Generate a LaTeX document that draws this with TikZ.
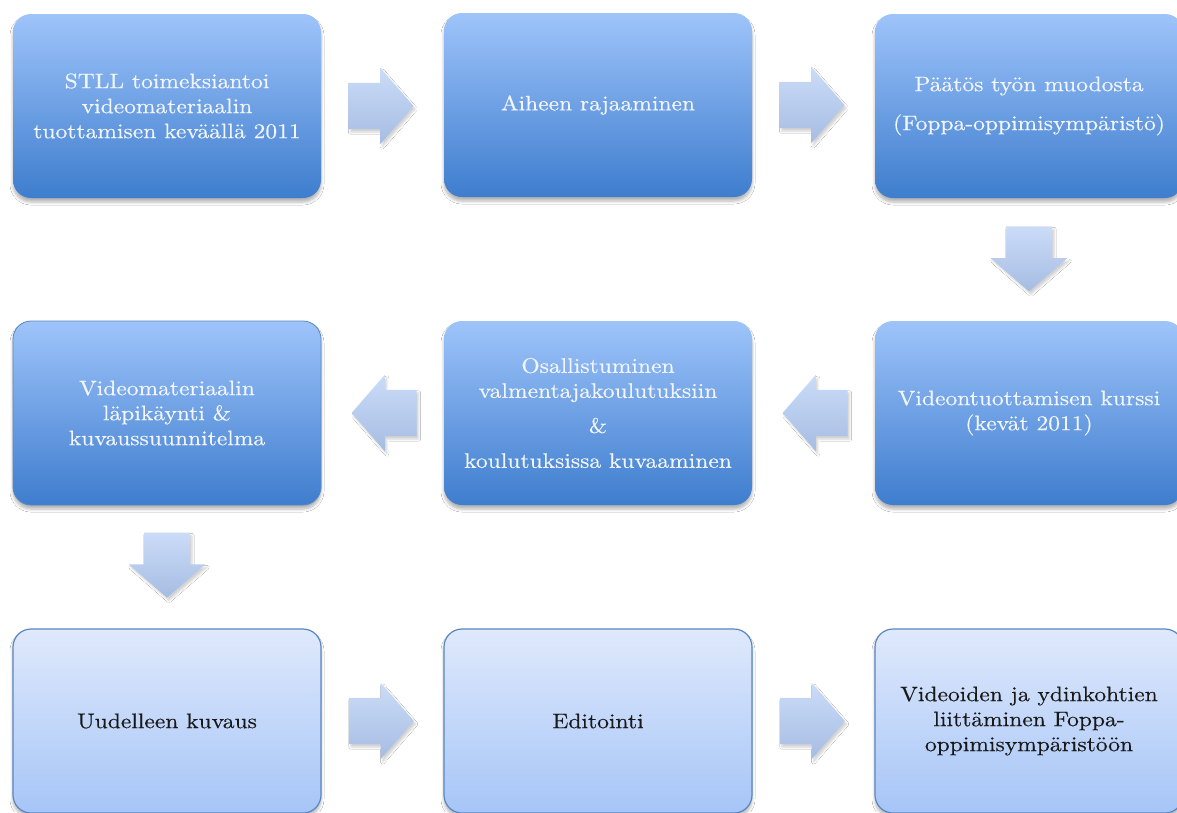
\documentclass[tikz,border=0pt]{standalone}
\usepackage{fontspec}
\setmainfont{lmroman10-regular.otf}[FakeStretch=1.12,FakeBold=0.35]
\usetikzlibrary{shapes.arrows,shadows.blur,calc}
\definecolor{dtop}{RGB}{158,196,250}
\definecolor{dbot}{RGB}{62,125,206}
\definecolor{ltop}{RGB}{223,233,252}
\definecolor{lbot}{RGB}{166,197,247}
\definecolor{lborder}{RGB}{88,135,195}
\definecolor{atop}{RGB}{203,220,248}
\definecolor{abot}{RGB}{165,188,226}
\definecolor{wtext}{RGB}{242,246,252}
\definecolor{btext}{RGB}{25,25,25}
\begin{document}
\begin{tikzpicture}[x=1pt,y=-1pt,
  boxbase/.style={rectangle, rounded corners=18pt, minimum width=308pt, minimum height=184pt,
    inner sep=0pt, align=center, font=\fontsize{21}{25}\selectfont,
    blur shadow={shadow xshift=0pt,shadow yshift=-4pt,shadow blur radius=3pt,shadow blur steps=6,shadow opacity=30}},
  darkbox/.style={boxbase, top color=dtop, bottom color=dbot, text=wtext},
  lightbox/.style={boxbase, top color=ltop, bottom color=lbot, draw=lborder, line width=1.2pt, text=btext},
  barrow/.style={single arrow, single arrow head extend=15pt, single arrow tip angle=98,
    minimum height=65pt, minimum width=76pt,
    top color=atop, bottom color=abot, draw=none,
    blur shadow={shadow xshift=2pt,shadow yshift=-3pt,shadow blur radius=2pt,shadow blur steps=5,shadow opacity=18}},
  rarrow/.style={barrow, inner xsep=0pt, inner ysep=23pt, anchor=tail},
  larrow/.style={barrow, inner xsep=0pt, inner ysep=23pt, shape border rotate=180, anchor=tail},
  darrow/.style={barrow, inner xsep=23pt, inner ysep=0pt, shape border rotate=270, anchor=tail}
]
\useasboundingbox (0,0) rectangle (1177,812);
\fill[white] (0,0) rectangle (1177,812);

\node[darkbox] (b1) at (167,106) {STLL toimeksiantoi\\videomateriaalin\\tuottamisen keväällä 2011};
\node[darkbox] (b2) at (598,105) {Aiheen rajaaminen};
\node[darkbox] (b3) at (1029,106) {Päätös työn muodosta\\[14pt](Foppa-oppimisympäristö)};
\node[darkbox] (b4) at (1029,413) {Videontuottamisen kurssi\\(kevät 2011)};
\node[darkbox] (b5) at (598,413) {Osallistuminen\\valmentajakoulutuksiin\\[10pt]\&\\[10pt]koulutuksissa kuvaaminen};
\node[darkbox, draw=lborder, line width=0.8pt] (b6) at (167,413) {Videomateriaalin\\läpikäynti \&\\kuvaussuunnitelma};
\node[lightbox] (b7) at (167,721) {Uudelleen kuvaus};
\node[lightbox] (b8) at (598,721) {Editointi};
\node[lightbox] (b9) at (1029,721) {Videoiden ja ydinkohtien\\liittäminen Foppa-\\oppimisympäristöön};

\node[rarrow] (a1) at ([xshift=27pt]b1.east) {};
\node[rarrow] (a2) at ([xshift=27pt]b2.east) {};
\node[darrow] (a3) at ([yshift=-28pt]b3.south) {};
\node[larrow] (a4) at ([xshift=-27pt]b4.west) {};
\node[larrow] (a5) at ([xshift=-27pt]b5.west) {};
\node[darrow] (a6) at ([yshift=-27pt]b6.south) {};
\node[rarrow] (a7) at ([xshift=27pt]b7.east) {};
\node[rarrow] (a8) at ([xshift=27pt]b8.east) {};
\end{tikzpicture}
\end{document}
